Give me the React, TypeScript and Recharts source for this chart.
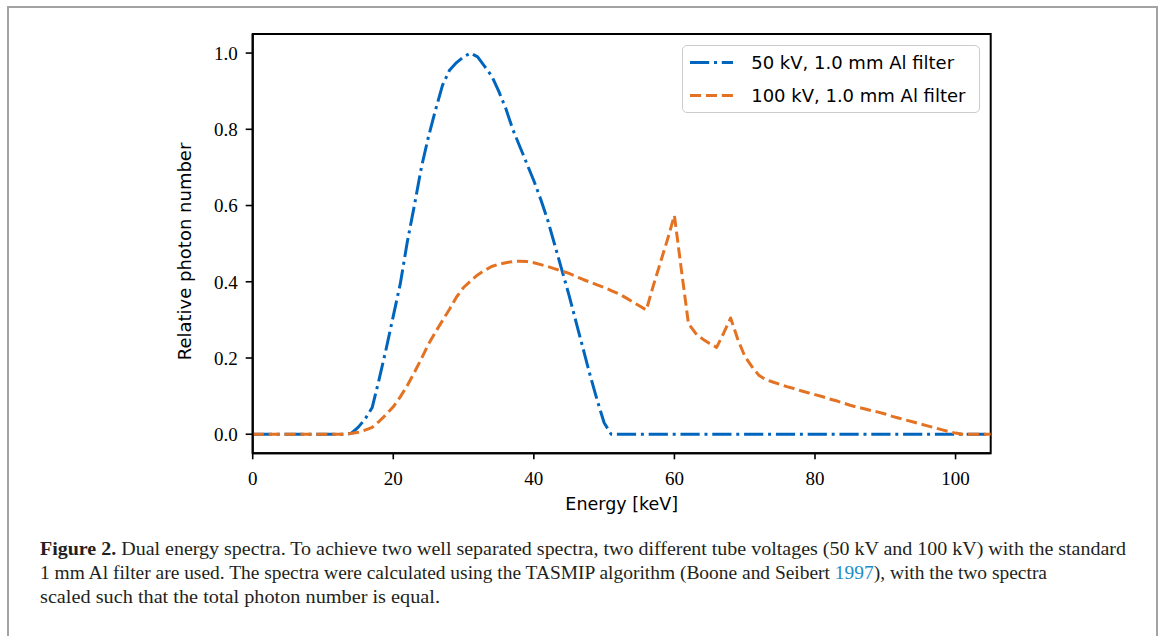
import React from 'react';
import { LineChart, Line, XAxis, YAxis, ReferenceArea, Legend } from 'recharts';

const energyKeV = [
  0, 1, 2, 3, 4, 5, 6, 7, 8, 9, 10, 11, 12, 13, 14, 15, 16, 17, 18, 19,
  20, 21, 22, 23, 24, 25, 26, 27, 28, 29, 30, 31, 32, 33, 34, 35, 36, 37, 38, 39,
  40, 41, 42, 43, 44, 45, 46, 47, 48, 49, 50, 51, 52, 53, 54, 55, 56, 57, 58, 59,
  60, 61, 62, 63, 64, 65, 66, 67, 68, 69, 70, 71, 72, 73, 74, 75, 76, 77, 78, 79,
  80, 81, 82, 83, 84, 85, 86, 87, 88, 89, 90, 91, 92, 93, 94, 95, 96, 97, 98, 99,
  100, 101, 102, 103, 104, 105,
];

const spectrum50kV = [
  0, 0, 0, 0, 0, 0, 0, 0, 0, 0, 0, 0, 0, 0, 0.002, 0.018, 0.04, 0.07, 0.145, 0.225,
  0.31, 0.395, 0.505, 0.6, 0.7, 0.78, 0.85, 0.915, 0.955, 0.975, 0.99, 1.0, 0.99, 0.965, 0.94, 0.9, 0.855, 0.8, 0.755, 0.71,
  0.665, 0.615, 0.56, 0.495, 0.43, 0.365, 0.295, 0.225, 0.155, 0.09, 0.03, 0, 0, 0, 0, 0, 0, 0, 0, 0,
  0, 0, 0, 0, 0, 0, 0, 0, 0, 0, 0, 0, 0, 0, 0, 0, 0, 0, 0, 0,
  0, 0, 0, 0, 0, 0, 0, 0, 0, 0, 0, 0, 0, 0, 0, 0, 0, 0, 0, 0,
  0, 0, 0, 0, 0, 0,
];

const spectrum100kV = [
  0, 0, 0, 0, 0, 0, 0, 0, 0, 0, 0, 0, 0, 0, 0.002, 0.005, 0.011, 0.018, 0.034, 0.052,
  0.072, 0.098, 0.128, 0.162, 0.198, 0.236, 0.268, 0.298, 0.328, 0.36, 0.385, 0.402, 0.418, 0.43, 0.44, 0.446, 0.45, 0.453, 0.454, 0.453,
  0.45, 0.445, 0.44, 0.434, 0.428, 0.422, 0.414, 0.406, 0.399, 0.392, 0.385, 0.377, 0.369, 0.359, 0.348, 0.337, 0.326, 0.39, 0.45, 0.51,
  0.574, 0.43, 0.29, 0.265, 0.25, 0.238, 0.228, 0.265, 0.305, 0.25, 0.205, 0.178, 0.155, 0.143, 0.137, 0.131, 0.125, 0.12, 0.114, 0.109,
  0.104, 0.099, 0.093, 0.088, 0.082, 0.076, 0.071, 0.067, 0.062, 0.058, 0.053, 0.047, 0.042, 0.037, 0.032, 0.027, 0.022, 0.017, 0.012, 0.007,
  0.003, 0, 0, 0, 0, 0,
];

const xTicks = [0, 20, 40, 60, 80, 100];
const yTicks = [0, 0.2, 0.4, 0.6, 0.8, 1.0];
const seriesNames = ['50 kV, 1.0 mm Al filter', '100 kV, 1.0 mm Al filter'];
const xLabel = 'Energy [keV]';
const yLabel = 'Relative photon number';
const captionBold = 'Figure 2.';
const captionLine1 = ' Dual energy spectra. To achieve two well separated spectra, two different tube voltages (50 kV and 100 kV) with the standard';
const captionLine2a = '1 mm Al filter are used. The spectra were calculated using the TASMIP algorithm (Boone and Seibert ';
const captionLine2Link = '1997';
const captionLine2b = '), with the two spectra';
const captionLine3 = 'scaled such that the total photon number is equal.';

const BLUE = '#0065BD';
const ORANGE = '#E37222';
const DASH_BLUE = '19.2 4.8 3 4.8';
const DASH_ORANGE = '11.1 4.8';

const data = energyKeV.map((e, i) => ({ energy: e, s50: spectrum50kV[i], s100: spectrum100kV[i] }));

const sans = "'DejaVu Sans', sans-serif";
const serif = "'Liberation Serif', serif";

const legendItems = [
  { name: seriesNames[0], color: BLUE, dash: DASH_BLUE },
  { name: seriesNames[1], color: ORANGE, dash: DASH_ORANGE },
];

const renderLegend = () => (
  <div
    style={{
      boxSizing: 'border-box',
      width: 298,
      height: 68,
      border: '1.5px solid #cccccc',
      borderRadius: 5,
      background: 'rgba(255,255,255,0.85)',
      position: 'relative',
      fontFamily: sans,
      fontSize: 18,
      color: '#000',
    }}
  >
    {legendItems.map((it, i) => (
      <div
        key={it.name}
        style={{
          position: 'absolute',
          left: -1.5,
          top: (i === 0 ? 4.8 : 37.5) - 1.5,
          height: 27,
          display: 'flex',
          alignItems: 'center',
          whiteSpace: 'nowrap',
        }}
      >
        <svg width={52} height={27} style={{ display: 'block' }}>
          <line x1={8} x2={51} y1={13.5} y2={13.5} stroke={it.color} strokeWidth={3} strokeDasharray={it.dash} />
        </svg>
        <span style={{ marginLeft: 17.7, lineHeight: '27px' }}>{it.name}</span>
      </div>
    ))}
  </div>
);

export default function App() {
  return (
    <div style={{ position: 'absolute', left: 0, top: 0, width: 1167, height: 636, background: '#fff', overflow: 'hidden' }}>
      <LineChart
        width={1167}
        height={636}
        data={data}
        margin={{ top: 34, right: 176.3, bottom: 142.7, left: 192.7 }}
      >
        <XAxis
          dataKey="energy"
          type="number"
          domain={[0, 105]}
          ticks={xTicks}
          height={40}
          tickSize={6}
          tickMargin={12}
          axisLine={{ stroke: '#000', strokeWidth: 2 }}
          tickLine={{ stroke: '#000', strokeWidth: 1.6 }}
          tick={{ fontFamily: serif, fontSize: 19, fill: '#000' }}
          allowDecimals={false}
          label={{ value: xLabel, position: 'bottom', offset: 4, style: { fontFamily: sans, fontSize: 17.5, fill: '#000' } }}
        />
        <YAxis
          type="number"
          domain={[-0.05, 1.05]}
          ticks={yTicks}
          width={60}
          tickSize={7}
          tickMargin={8}
          axisLine={{ stroke: '#000', strokeWidth: 2 }}
          tickLine={{ stroke: '#000', strokeWidth: 1.6 }}
          tick={{ fontFamily: serif, fontSize: 19, fill: '#000' }}
          tickFormatter={(v: number) => v.toFixed(1)}
          allowDataOverflow
        />
        <Line
          dataKey="s50"
          name={seriesNames[0]}
          type="linear"
          stroke={BLUE}
          strokeWidth={3}
          strokeDasharray={DASH_BLUE}
          strokeLinejoin="round"
          dot={false}
          activeDot={false}
          isAnimationActive={false}
        />
        <Line
          dataKey="s100"
          name={seriesNames[1]}
          type="linear"
          stroke={ORANGE}
          strokeWidth={3}
          strokeDasharray={DASH_ORANGE}
          strokeLinejoin="round"
          dot={false}
          activeDot={false}
          isAnimationActive={false}
        />
        <ReferenceArea
          x1={0}
          x2={105}
          y1={-0.05}
          y2={1.05}
          fill="none"
          fillOpacity={0}
          stroke="#000"
          strokeWidth={2}
          ifOverflow="visible"
        />
        <Legend
          layout="vertical"
          align="center"
          verticalAlign="middle"
          content={renderLegend}
          wrapperStyle={{ position: 'absolute', left: 682, top: 45, width: 298, height: 68 }}
        />
      </LineChart>
      <svg
        width={1167}
        height={636}
        style={{ position: 'absolute', left: 0, top: 0, pointerEvents: 'none' }}
      >
        <polyline points="8,640 8,7 1157,7 1157,640" fill="none" stroke="#a3a3a3" strokeWidth={2} />
        <text
          transform="translate(191,251.5) rotate(-90)"
          textAnchor="middle"
          fontFamily={sans}
          fontSize={18}
          fill="#000"
        >
          {yLabel}
        </text>
        <text x={40} y={555} fontFamily={serif} fontSize={18} fill="#231f20" textLength={1086} lengthAdjust="spacingAndGlyphs">
          <tspan fontWeight="bold">{captionBold}</tspan>
          <tspan>{captionLine1}</tspan>
        </text>
        <text x={40} y={579} fontFamily={serif} fontSize={18} fill="#231f20" textLength={1007} lengthAdjust="spacingAndGlyphs">
          <tspan>{captionLine2a}</tspan>
          <tspan fill="#1d8dc8">{captionLine2Link}</tspan>
          <tspan>{captionLine2b}</tspan>
        </text>
        <text x={40} y={603} fontFamily={serif} fontSize={18} fill="#231f20" textLength={400} lengthAdjust="spacingAndGlyphs">
          {captionLine3}
        </text>
      </svg>
    </div>
  );
}
